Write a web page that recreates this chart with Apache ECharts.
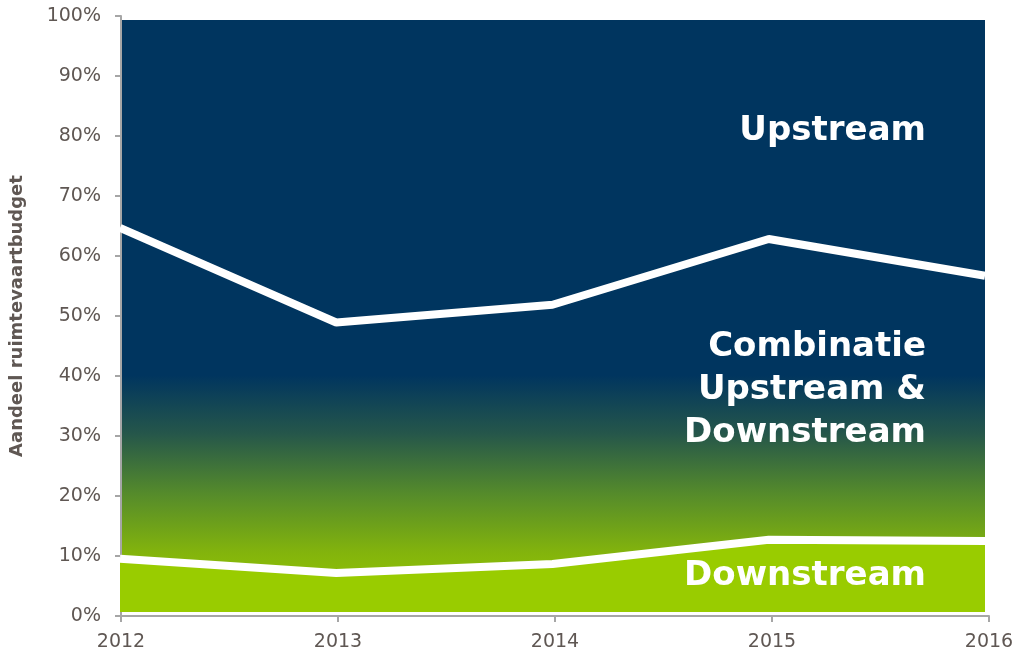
<!DOCTYPE html>
<html><head><meta charset="utf-8">
<script src="https://cdn.jsdelivr.net/npm/echarts@6/dist/echarts.min.js"></script>
<style>html,body{margin:0;padding:0;background:#fff}#c{width:1020px;height:654px}</style>
</head><body><div id="c"></div>
<script>
const years = ['2012','2013','2014','2015','2016'];
const upperLine = [64.9, 48.9, 51.9, 63.0, 56.8];
const lowerLine = [9.0, 6.6, 8.1, 12.2, 12.0];
const yTicks = [0,10,20,30,40,50,60,70,80,90,100];

const chart = echarts.init(document.getElementById('c'));
const txt = '#5f5753';
const font = 'DejaVu Sans, Verdana, sans-serif';
const ax = '#a6a6a6';
chart.setOption({
  animation:false,
  grid:[
    {left:116,right:31,top:16,bottom:38,show:false},
    {left:120,right:35,top:20,bottom:42,show:true,borderWidth:0,
      backgroundColor:new echarts.graphic.LinearGradient(0,0,0,1,[
        {offset:0,color:'#00355f'},{offset:0.6,color:'#00355f'},
        {offset:0.7,color:'#26574a'},{offset:0.8,color:'#558b2b'},
        {offset:0.9,color:'#83b40c'},{offset:1,color:'#99cc00'}])}
  ],
  xAxis:[
    {gridIndex:0,type:'category',data:years,boundaryGap:false,
      axisLine:{lineStyle:{color:ax,width:2}},
      axisTick:{show:true,length:6,lineStyle:{color:ax,width:2}},
      axisLabel:{color:txt,fontFamily:font,fontSize:19,margin:17},
      splitLine:{show:false}},
    {gridIndex:1,type:'category',data:years,boundaryGap:false,show:false}
  ],
  yAxis:[
    {gridIndex:0,type:'value',min:0,max:100,interval:10,
      name:'Aandeel ruimtevaartbudget',nameLocation:'middle',nameGap:95,
      nameTextStyle:{color:txt,fontFamily:font,fontWeight:'bold',fontSize:18},
      axisLine:{show:true,lineStyle:{color:ax,width:2}},
      axisTick:{show:true,length:6,lineStyle:{color:ax,width:2}},
      axisLabel:{color:txt,fontFamily:font,fontSize:19,margin:20,formatter:v=>v+'%'},
      splitLine:{show:false}},
    {gridIndex:1,type:'value',min:0,max:100,show:false,splitLine:{show:false}}
  ],
  series:[
    {type:'line',xAxisIndex:1,yAxisIndex:1,data:lowerLine,symbol:'none',z:3,
      lineStyle:{color:'#ffffff',width:8},
      areaStyle:{color:'#99cc00',opacity:1,origin:'start'}},
    {type:'line',xAxisIndex:1,yAxisIndex:1,data:upperLine,symbol:'none',z:4,
      lineStyle:{color:'#ffffff',width:8}}
  ],
  graphic:[
    {type:'text',right:1020-926,top:114,z:10,style:{text:'Upstream',fill:'#fff',font:'bold 34px '+font,textAlign:'right'}},
    {type:'text',right:1020-926,top:326,z:10,style:{text:'Combinatie\nUpstream &\nDownstream',fill:'#fff',font:'bold 34px '+font,textAlign:'right',lineHeight:43}},
    {type:'text',right:1020-926,top:559,z:10,style:{text:'Downstream',fill:'#fff',font:'bold 34px '+font,textAlign:'right'}}
  ]
});
</script></body></html>
